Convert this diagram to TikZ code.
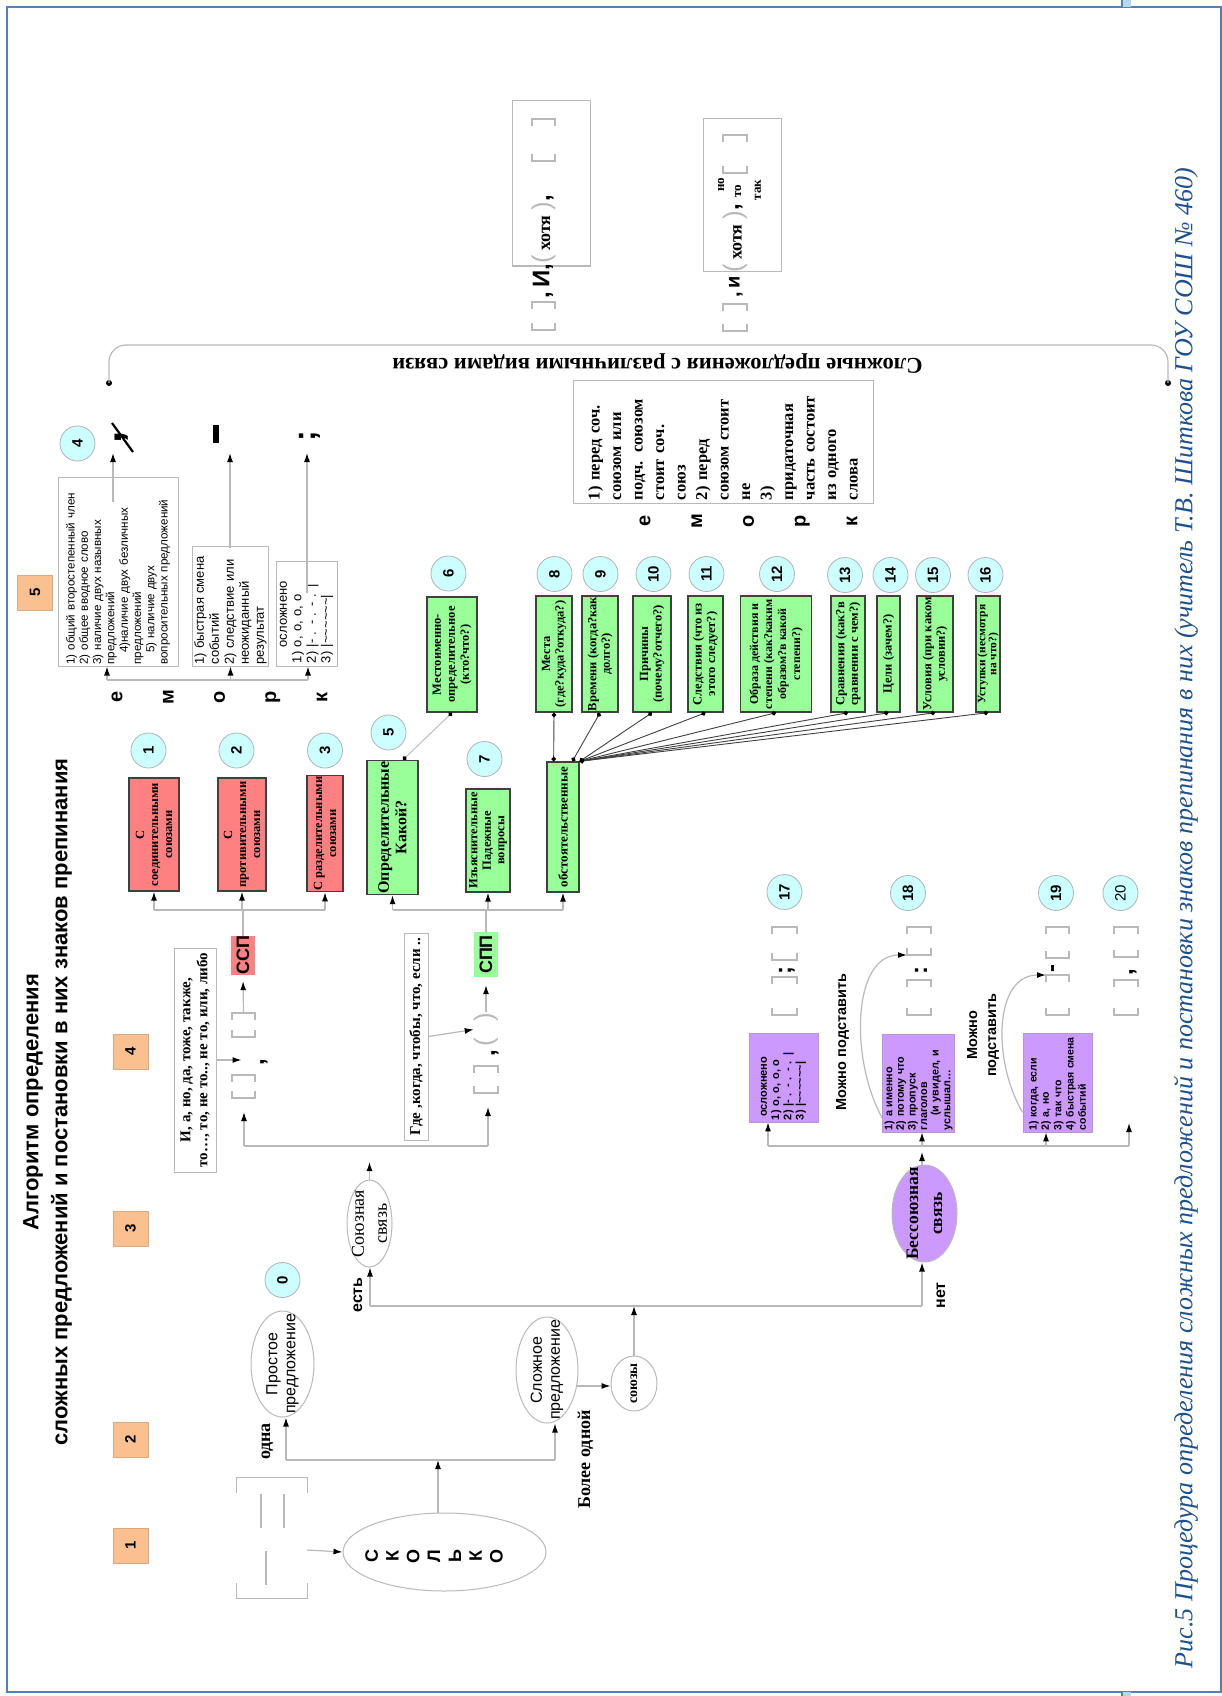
\documentclass[tikz,border=0pt]{standalone}
\usepackage{fontspec}
\setmainfont{Liberation Serif}
\setsansfont{Liberation Sans}
\usetikzlibrary{shapes.geometric,arrows.meta,calc}
\definecolor{lgray}{RGB}{185,185,185}
\definecolor{cyanc}{RGB}{204,255,255}
\definecolor{orangec}{RGB}{250,192,144}
\definecolor{orangeb}{RGB}{215,170,130}
\definecolor{redc}{RGB}{255,128,128}
\definecolor{greenc}{RGB}{153,255,153}
\definecolor{purplec}{RGB}{204,153,255}
\definecolor{purpleb}{RGB}{180,150,210}
\definecolor{capblue}{RGB}{30,80,140}
\definecolor{framec}{RGB}{79,129,189}
\definecolor{tabc}{RGB}{184,214,240}
\newcommand{\fsz}[2]{\fontsize{#1}{#2}\selectfont}
\newcommand{\parenf}{\color{lgray}\sffamily\mdseries\fsz{26}{26}}
\newcommand{\clausebox}[5]{%
  \node[inner sep=0pt, outer sep=0pt, minimum width=#4pt, minimum height=#5pt] (#1) at (#2,#3) {};
  \draw[clausel] ([yshift=-7pt]#1.north west) -- (#1.north west) -- (#1.north east) -- ([yshift=-7pt]#1.north east)
     ([yshift=7pt]#1.south west) -- (#1.south west) -- (#1.south east) -- ([yshift=7pt]#1.south east);}
\tikzset{
  lbl/.style={rotate=90, inner sep=0pt, align=center},
  numc/.style={circle, draw=black!30, line width=0.8pt, fill=cyanc, minimum size=35pt, inner sep=0pt, rotate=90, font=\sffamily\bfseries\fsz{15}{15}},
  stepsq/.style={draw=orangeb, line width=0.8pt, fill=orangec, minimum size=35pt, inner sep=0pt, rotate=90, font=\sffamily\bfseries\fsz{15}{15}},
  cbox/.style={rotate=90, draw=black!75, line width=1.4pt, inner sep=1pt, align=center, font=\bfseries\fsz{12.5}{14}},
  rbox/.style={cbox, fill=redc},
  gbox/.style={cbox, fill=greenc},
  pbox/.style={rotate=90, draw=purpleb, line width=0.8pt, fill=purplec, inner sep=2pt, align=left, font=\sffamily\bfseries\fsz{11}{12.3}},
  tbox/.style={rotate=90, draw=lgray, line width=1pt, inner sep=3pt},
  shp/.style={ellipse, draw=lgray, line width=1pt, inner sep=0pt},
  conn/.style={draw=lgray, line width=1.2pt},
  arr/.style={conn, -{Latex[length=9pt,width=6pt,color=black]}},
  fanl/.style={draw=black!75, line width=0.9pt, {Circle[length=4.5pt,color=black]}-{Circle[length=4.5pt,color=black]}},
  clausel/.style={draw=lgray, line width=1.2pt},
  punct/.style={rotate=90, inner sep=0pt, font=\sffamily\bfseries\fsz{24}{24}},
  dotn/.style={circle, fill=black, inner sep=0pt, minimum size=6pt},
}
\begin{document}
\begin{tikzpicture}[x=1pt,y=-1pt]
\useasboundingbox (0,0) rectangle (1222,1696);
\fill[white] (0,0) rectangle (1222,1696);
% frame
\draw[framec, line width=1.3pt] (7,7) rectangle (1221,1692);
\fill[tabc] (1122,0) rectangle (1131,7);
\fill[tabc] (1122,1692) rectangle (1131,1696);
\draw[framec, line width=1.5pt] (1122,0) -- (1122,7) (1122,1692) -- (1122,1696);

% title
\node[lbl, font=\sffamily\bfseries\fsz{22}{29}] (title) at (47.5,1102) {Алгоритм определения\\сложных предложений и постановки в них знаков препинания};

% step squares
\node[stepsq] (s1) at (130.5,1545.5) {1};
\node[stepsq] (s2) at (130.5,1439.5) {2};
\node[stepsq] (s3) at (130.5,1228.5) {3};
\node[stepsq] (s4) at (130.5,1051.5) {4};
\node[stepsq] (s5) at (35,592.5) {5};

% ---------- sentence scheme and "Skolko"
\node[inner sep=0pt, minimum width=70pt, minimum height=120pt] (sch) at (272,1538) {};
\draw[clausel] ([yshift=-15pt]sch.north west) -- (sch.north west) -- (sch.north east) -- ([yshift=-15pt]sch.north east)
   ([yshift=15pt]sch.south west) -- (sch.south west) -- (sch.south east) -- ([yshift=15pt]sch.south east);
\draw[clausel] (261,1494) -- (261,1528) (284,1494) -- (284,1528) (266,1551) -- (266,1585);
\node[shp, minimum width=203pt, minimum height=78pt] (skolko) at (444.5,1552) {};
\node[lbl, font=\sffamily\bfseries\fsz{18}{20.8}] (skolkot) at (434,1556) {С\\К\\О\\Л\\Ь\\К\\О};
\draw[arr] ($(sch.east)+(0,12)$) -- (skolko.west);

\coordinate (jL) at (286,1460);
\coordinate (jR) at (555,1460);
\coordinate (jM) at (438,1460);
\draw[conn] (jL) -- (jR);
\draw[arr] (jM |- skolko.north) -- (jM);

\node[shp, minimum width=63pt, minimum height=106pt] (prost) at (282.5,1364) {};
\node[lbl, font=\sffamily\fsz{16}{18}] (prostt) at (282.5,1364) {Простое\\предложение};
\node[shp, minimum width=62pt, minimum height=106pt] (slozh) at (547,1370) {};
\node[lbl, font=\sffamily\fsz{16}{18}] (slozht) at (547,1370) {Сложное\\предложение};
\draw[arr] (jL) -- (jL |- prost.south);
\draw[arr] (jR) -- (jR |- slozh.south);
\node[lbl, font=\bfseries\fsz{18}{18}] (odna) at (267.5,1441.5) {одна};
\node[lbl, font=\bfseries\fsz{18}{18}] (bolee) at (585.5,1459.5) {Более одной};

\node[shp, minimum width=46pt, minimum height=55pt] (soyuzy) at (634,1383.5) {};
\node[lbl, font=\bfseries\fsz{14}{14}] (soyuzyt) at (634,1383.5) {союзы};
\draw[arr] (slozh.332) -- (slozh.332 -| soyuzy.west);

\node[numc] (c0) at (282.5,1280) {0};

\coordinate (hbL) at (370,1306);
\coordinate (hbR) at (922,1306);
\draw[conn] (hbL) -- (hbR);
\node[shp, minimum width=45pt, minimum height=87pt] (soyuz) at (369.5,1223.5) {};
\node[lbl, font=\fsz{18}{23}] (soyuzt) at (369.5,1223.5) {Союзная\\связь};
\node[shp, fill=purplec, minimum width=65pt, minimum height=97pt] (bess) at (924.5,1213.5) {};
\node[lbl, font=\bfseries\fsz{17.5}{24}] (besst) at (924.5,1213.5) {Бессоюзная\\связь};
\draw[arr] (soyuzy.north) -- (soyuzy.north |- hbL);
\draw[arr] (hbL) -- (hbL |- soyuz.south);
\draw[arr] (hbR) -- (hbR |- bess.south);
\node[lbl, font=\sffamily\bfseries\fsz{16}{16}] (est) at (358,1295) {есть};
\node[lbl, font=\sffamily\bfseries\fsz{16}{16}] (net) at (941,1295.5) {нет};

% ---------- conjunctions branch
\coordinate (hcL) at (244,1146);
\coordinate (hcR) at (488,1146);
\draw[conn] (hcL) -- (hcR);
\draw[arr, shorten >=16pt] (soyuz.north) -- (soyuz.north |- hcL);

% SSP scheme
\clausebox{cl1}{243.5}{1086.5}{23}{23}
\clausebox{cl2}{243.5}{1025}{23}{24}
\node[punct] (cm1) at (264,1062) {,};
\draw[arr, shorten >=14pt] (hcL) -- (hcL |- cl1.south);
\node[tbox, align=center, font=\bfseries\fsz{15}{17}, minimum width=224pt, minimum height=42pt] (tc1) at (195,1060) {И, а, но, да, тоже, также,\\то…, то, не то.., не то, или, либо};
\draw[arr, shorten >=2pt] (tc1.south) -- (tc1.south -| cl1.center);
\node[lbl, fill=redc, minimum width=39pt, minimum height=24pt, font=\sffamily\bfseries\fsz{18}{18}] (ssp) at (243,955.5) {ССП};
\draw[arr, shorten >=6pt] (cl2.north) -- (ssp.west);
\coordinate (fy) at (0,910);

\node[rbox, minimum width=113pt, minimum height=50pt] (r1) at (154,834.5) {С\\соединительными\\союзами};
\node[rbox, minimum width=113pt, minimum height=48pt] (r2) at (242,834.5) {С\\противительными\\союзами};
\node[rbox, minimum width=115pt, minimum height=36pt] (r3) at (325,833.5) {С разделительными\\союзами};
\draw[conn] (ssp.east) -- (ssp.east |- fy);
\draw[conn] (r1.west |- fy) -- (r3.west |- fy);
\draw[arr] (r1.west |- fy) -- (r1.west);
\draw[arr] (r2.west |- fy) -- (r2.west);
\draw[arr] (r3.west |- fy) -- (r3.west);
\node[numc] (c1) at (148.5,750.5) {1};
\node[numc] (c2) at (236.5,750.5) {2};
\node[numc] (c3) at (325,750.5) {3};

% SPP scheme
\node[tbox, font=\bfseries\fsz{15}{17}, minimum width=207pt, minimum height=24pt] (tc2) at (416,1036.5) {Где ,когда, чтобы, что, если ..};
\node[lbl] (pr) at (486,1029.5) {\parenf(\hspace{17pt})};
\node[punct] (cm2) at (495,1053) {,};
\clausebox{cl3}{486}{1079.5}{24}{27}
\draw[arr] (tc2.south) -- (pr.north);
\draw[arr, shorten >=14pt] (hcR) -- (hcR |- cl3.south);
\node[lbl, fill=greenc, minimum width=45pt, minimum height=24pt, font=\sffamily\bfseries\fsz{18}{18}] (spp) at (486,954.5) {СПП};
\draw[arr, shorten >=8pt] (pr.east) -- (spp.west);

\node[gbox, minimum width=127pt, minimum height=51pt, font=\bfseries\fsz{16}{17.5}] (gopr) at (392.5,827.5) {Определительные\\Какой?};
\node[gbox, minimum width=115pt, minimum height=50pt, font=\bfseries\fsz{12.5}{14}] (gmest) at (452,654.5) {Местоименно-\\определительное\\(кто?что?)};
\node[gbox, minimum width=103pt, minimum height=44pt, font=\bfseries\fsz{12.5}{13.5}] (gizja) at (488,840.5) {Изъяснительные\\Падежные\\вопросы};
\node[gbox, minimum width=130pt, minimum height=32pt, font=\bfseries\fsz{13}{14}] (gobst) at (563,827) {обстоятельственные};
\draw[conn] (spp.east) -- (spp.east |- fy);
\draw[conn] (gopr.west |- fy) -- (gobst.west |- fy);
\draw[arr] (gopr.west |- fy) -- (gopr.west);
\draw[arr] (gizja.west |- fy) -- (gizja.west);
\draw[arr] (gobst.west |- fy) -- (gobst.west);
\draw[draw=lgray, line width=0.9pt, {Circle[length=4.5pt,color=black]}-{Circle[length=4.5pt,color=black]}] ($(gopr.north east)!0.7!(gopr.south east)$) -- (gmest.west);
\node[numc] (c5) at (388.5,732.5) {5};
\node[numc] (c6) at (448.5,573.5) {6};
\node[numc] (c7) at (484.5,759) {7};

\node[gbox, minimum width=116pt, minimum height=36pt, font=\bfseries\fsz{12.5}{13.5}] (g8) at (554,654) {Места\\(где?куда?откуда?)};
\node[gbox, minimum width=116pt, minimum height=36pt, font=\bfseries\fsz{12.5}{13.5}] (g9) at (600,654) {Времени (когда?как\\долго?)};
\node[gbox, minimum width=116pt, minimum height=38pt, font=\bfseries\fsz{12.5}{13.5}] (g10) at (652,654) {Причины\\(почему?отчего?)};
\node[gbox, minimum width=116pt, minimum height=35pt, font=\bfseries\fsz{12.5}{13.5}] (g11) at (705.5,654) {Следствия (что из\\этого следует?)};
\node[gbox, minimum width=116pt, minimum height=71pt, font=\bfseries\fsz{12}{14}] (g12) at (776,654) {Образа действия и\\степени (как?каким\\образом?в какой\\степени?)};
\node[gbox, minimum width=116pt, minimum height=34pt, font=\bfseries\fsz{12.5}{13.5}] (g13) at (848,654) {Сравнения (как?в\\сравнении с чем?)};
\node[gbox, minimum width=116pt, minimum height=23pt, font=\bfseries\fsz{12.5}{13.5}] (g14) at (888.5,654) {Цели (зачем?)};
\node[gbox, minimum width=116pt, minimum height=36pt, font=\bfseries\fsz{12.5}{13.5}] (g15) at (935,654) {Условия (при каком\\условии?)};
\node[gbox, minimum width=116pt, minimum height=24pt, font=\bfseries\fsz{11.5}{11}] (g16) at (988,654) {Уступки (несмотря\\на что?)};
\draw[fanl] ($(gobst.north east)!0.22!(gobst.south east)$) -- (g8.west);
\draw[fanl] ($(gobst.north east)!0.78!(gobst.south east)$) -- (g9.west);
\draw[fanl] (gobst.south east) -- (g10.west);
\draw[fanl] (gobst.south east) -- (g11.west);
\draw[fanl] (gobst.south east) -- (g12.west);
\draw[fanl] (gobst.south east) -- (g13.west);
\draw[fanl] (gobst.south east) -- (g14.west);
\draw[fanl] (gobst.south east) -- (g15.west);
\draw[fanl] (gobst.south east) -- (g16.west);
\node[numc] (c8) at (554.5,574) {8};
\node[numc] (c9) at (600.5,574) {9};
\node[numc] (c10) at (653.5,574) {10};
\node[numc] (c11) at (706.5,574) {11};
\node[numc] (c12) at (777,574) {12};
\node[numc] (c13) at (845,575) {13};
\node[numc] (c14) at (890.5,575) {14};
\node[numc] (c15) at (933,575) {15};
\node[numc] (c16) at (985.5,575) {16};

% ---------- punctuation rules top-left
\node[tbox, align=left, text width=186pt, minimum width=189pt, minimum height=120pt, inner sep=1.5pt, font=\sffamily\fsz{11.6}{13.3}] (ta) at (118,571.5) {1) общий второстепенный член\\2) общее вводное слово\\3) наличие двух назывных\\предложений\\\hspace*{1em}4)наличие двух безличных\\предложений\\\hspace*{1em}5) наличие двух\\вопросительных предложений};
\node[tbox, align=left, text width=117pt, minimum width=120pt, minimum height=69pt, inner sep=1.5pt, font=\sffamily\fsz{13}{15}] (tb) at (230.5,606) {1) быстрая смена\\событий\\2) следствие или\\неожиданный\\результат};
\node[tbox, align=left, text width=99pt, minimum width=105pt, minimum height=61pt, font=\sffamily\fsz{13}{14.5}] (tcb) at (306.5,613.5) {\hspace*{1.2em}осложнено\\1) о, о, о, о\\2) |- . - . - . |\\3) |\textasciitilde\textasciitilde\textasciitilde\textasciitilde\textasciitilde\textasciitilde|};
\node[lbl, font=\sffamily\bfseries\fsz{20}{51.25}] (emork1) at (219.5,697) {е\\м\\о\\р\\к};
\coordinate (k1) at (107,680);
\coordinate (k3) at (308,680);
\draw[conn] (k1) -- (k3);
\draw[arr] (k1) -- (k1 |- ta.west);
\draw[arr] (tb.west |- k1) -- (tb.west);
\draw[arr] (k3) -- (k3 |- tcb.west);

\node[lbl, font=\sffamily\bfseries\fsz{44}{44}] (nc) at (122,437) {,};
\draw[black, line width=2.2pt] ($(nc.center)+(-10,-14)$) -- ($(nc.center)+(11,15)$);
\node[rotate=90, fill=black, minimum width=18pt, minimum height=6pt, inner sep=0pt] (dash1) at (216,434) {};
\node[lbl, font=\sffamily\bfseries\fsz{32}{32}] (semi1) at (310,436) {;};
\coordinate (a1s) at (113,502); \coordinate (a1e) at (113,453);
\coordinate (a2s) at (230,548); \coordinate (a2e) at (230,453);
\coordinate (a3s) at (307,593); \coordinate (a3e) at (307,453);
\draw[arr] (a1s) -- (a1e);
\draw[arr] (a2s) -- (a2e);
\draw[arr] (a3s) -- (a3e);
\node[numc] (c4) at (77.5,443.5) {4};

% ---------- complex sentences with different links (top)
\node[dotn] (bL) at (109,383) {};
\node[dotn] (bR) at (1168,383) {};
\draw[conn, rounded corners=17pt] (bL.center) -- (109,345) -- (1168,345) -- (bR.center);
\node[rotate=180, inner sep=0pt, font=\bfseries\fsz{22.5}{22.5}] (slpr) at (657.5,364) {Сложные предложения с различными видами связи};

\node[draw=lgray, line width=1pt, minimum width=78pt, minimum height=165pt, inner sep=0pt] (hb1) at (551,183.5) {};
\clausebox{hcl1}{543.5}{140}{23}{42}
\node[punct] (hcm1) at (550,198) {,};
\node[lbl] (hot1) at (543.5,233) {\parenf(\,{\color{black}\rmfamily\bfseries\fsz{18}{18}хотя}\,\parenf)};
\node[lbl, font=\sffamily\bfseries\fsz{24}{24}] (i1) at (543,281) {,\,И,};
\clausebox{hcl1b}{543.5}{316}{23}{28}

\node[draw=lgray, line width=1pt, minimum width=78pt, minimum height=152pt, inner sep=0pt] (hb2) at (742,195) {};
\clausebox{hcl2}{735}{154}{24}{38}
\node[punct] (hcm2) at (739,207) {,};
\node[lbl] (hot2) at (735,242) {\parenf(\,{\color{black}\rmfamily\bfseries\fsz{18}{18}хотя}\,\parenf)};
\node[lbl, font=\bfseries\fsz{13}{13}] (no2) at (721,185) {но};
\node[lbl, font=\bfseries\fsz{13}{13}] (to2) at (738,191) {то};
\node[lbl, font=\bfseries\fsz{13}{13}] (tak2) at (758,190) {так};
\node[lbl, font=\sffamily\bfseries\fsz{20}{20}] (i2) at (736,287) {,\,и};
\clausebox{hcl2b}{735}{317.5}{24}{27}

\node[tbox, align=left, text width=117pt, minimum width=123pt, minimum height=300pt, font=\bfseries\fsz{16.5}{21.5}] (tbig) at (723,441.5) {1) перед соч.\\союзом или\\подч. союзом\\стоит соч.\\союз\\2) перед\\союзом стоит\\не\\3)\\придаточная\\часть состоит\\из одного\\слова};
\node[lbl, font=\sffamily\bfseries\fsz{20}{51.75}] (emork2) at (748.5,521) {е\\м\\о\\р\\к};

% ---------- asyndetic branch
\coordinate (hdL) at (768,1146);
\coordinate (hd2) at (922,1146);
\coordinate (hd3) at (1046,1146);
\coordinate (hdR) at (1129,1146);
\coordinate (e20) at (1129,1123);
\draw[arr, shorten >=6pt] (hd2 |- bess.north) -- (hd2);
\draw[conn] (hdL) -- (hdR);
\node[pbox, text width=85pt, minimum width=89pt, minimum height=69pt] (p17) at (783.5,1077.5) {\hspace*{0.3em}осложнено\\1) о, о, о, о\\2) |- . - . - . |\\3) |\textasciitilde\textasciitilde\textasciitilde\textasciitilde\textasciitilde\textasciitilde|};
\node[pbox, text width=94pt, minimum width=98pt, minimum height=71pt, font=\sffamily\bfseries\fsz{10.8}{11.6}] (p18) at (918.5,1083) {1) а именно\\2) потому что\\3) пропуск\\глаголов\\\hspace*{1.3em}(и увидел, и\\услышал…};
\node[pbox, text width=95pt, minimum width=99pt, minimum height=69pt, font=\sffamily\bfseries\fsz{10.5}{12.3}] (p19) at (1057.5,1082.5) {1) когда, если\\2) а, но\\3) так что\\4) быстрая смена\\событий};
\draw[arr] (hdL) -- (hdL |- p17.west);
\draw[arr] (hd2) -- (hd2 |- p18.west);
\draw[arr] (hd3) -- (hd3 |- p19.west);
\draw[arr] (hdR) -- (e20);

\clausebox{cl17a}{784.5}{943.5}{25}{33}
\node[punct] (sc17) at (787,970) {;};
\clausebox{cl17b}{784.5}{996}{25}{38}
\clausebox{cl18a}{919}{941}{24}{28}
\node[punct] (co18) at (921,970) {:};
\clausebox{cl18b}{919}{997.5}{24}{35}
\clausebox{cl19a}{1057.5}{942.5}{23}{31}
\node[punct] (d19) at (1055,968) {-};
\clausebox{cl19b}{1057.5}{995}{23}{40}
\clausebox{cl20a}{1126}{942}{24}{30}
\node[punct] (cm20) at (1133,972) {,};
\clausebox{cl20b}{1126}{997.5}{24}{35}

\node[lbl, font=\sffamily\bfseries\fsz{14.5}{14.5}] (m1) at (842.5,1042) {Можно подставить};
\node[lbl, font=\sffamily\bfseries\fsz{14.5}{19}] (m2) at (983,1035) {Можно\\подставить};
\draw[arr] ($(p18.north west)!0.15!(p18.north east)$) .. controls (850,1060) and (852,955) .. (cl18a.south west);
\draw[arr] ($(p19.north west)!0.2!(p19.north east)$) .. controls (992,1060) and (994,975) .. (cl19b.north west);

\node[numc] (c17) at (784.5,892) {17};
\node[numc] (c18) at (908,893) {18};
\node[numc] (c19) at (1056,893) {19};
\node[numc, font=\sffamily\fsz{15}{15}] (c20) at (1120.5,893) {20};

% caption
\node[lbl, font=\itshape\fsz{26}{26}, text=capblue] (cap) at (1186,918) {Рис.5 Процедура определения сложных предложений и постановки знаков препинания в них (учитель Т.В. Шиткова ГОУ СОШ № 460)};
\end{tikzpicture}
\end{document}
